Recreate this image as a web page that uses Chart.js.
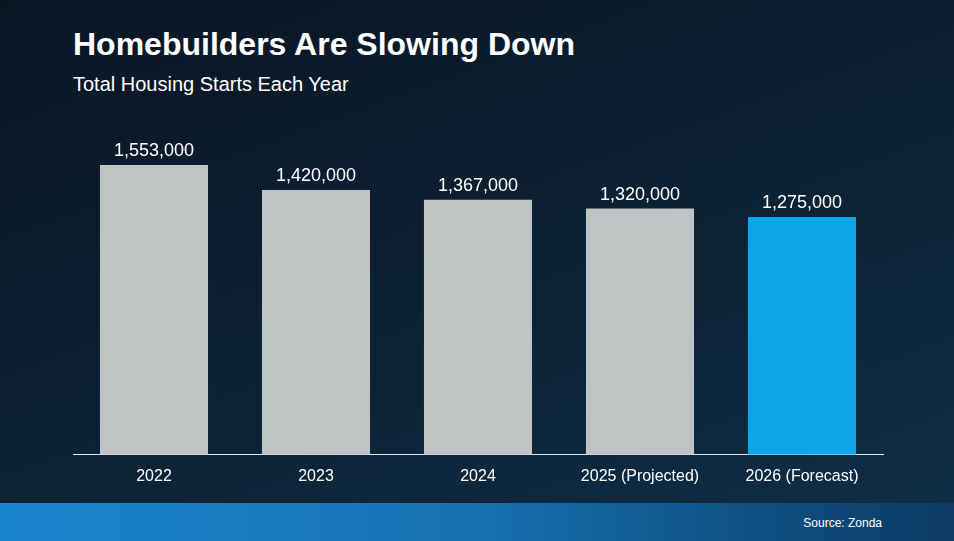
<!DOCTYPE html>
<html>
<head>
<meta charset="utf-8">
<script src="https://cdn.jsdelivr.net/npm/chart.js@4"></script>
<style>
  html, body { margin: 0; padding: 0; }
  body {
    width: 954px; height: 541px; overflow: hidden; position: relative;
    background: linear-gradient(160deg, #0a1624 0%, #0c2235 55%, #0e2f48 100%);
    font-family: "Liberation Sans", Arial, sans-serif; color: #fff;
  }
  #title { position: absolute; left: 73px; top: 26px; font-size: 32px; font-weight: bold; }
  #subtitle { position: absolute; left: 73px; top: 73px; font-size: 20px; }
  #chartBox { position: absolute; left: 0; top: 0; width: 954px; height: 500px; }
  #footer {
    position: absolute; left: 0; top: 503px; width: 954px; height: 38px;
    background: linear-gradient(90deg, #1a86cf 0%, #1670b0 50%, #0b3a63 100%);
  }
  #source { position: absolute; right: 72px; top: 13px; font-size: 12px; }
</style>
</head>
<body>
<div id="title">Homebuilders Are Slowing Down</div>
<div id="subtitle">Total Housing Starts Each Year</div>
<div id="chartBox"><canvas id="housingChart"></canvas></div>
<div id="footer"><span id="source">Source: Zonda</span></div>
<script>
const years = ['2022', '2023', '2024', '2025 (Projected)', '2026 (Forecast)'];
const starts = [1553000, 1420000, 1367000, 1320000, 1275000];
const barColors = ['#c0c3c4', '#c0c3c4', '#c0c3c4', '#c0c3c4', '#0ea5e9'];

const valueLabels = {
    id: 'valueLabels',
    afterDatasetsDraw(chart) {
        const c = chart.ctx;
        const meta = chart.getDatasetMeta(0);
        c.save();
        c.fillStyle = '#ffffff';
        c.font = '18px "Liberation Sans", Arial, sans-serif';
        c.textAlign = 'center';
        c.textBaseline = 'bottom';
        meta.data.forEach((bar, i) => {
            c.fillText(starts[i].toLocaleString('en-US'), bar.x, bar.y - 5);
        });
        c.restore();
    }
};

const ctx = document.getElementById('housingChart').getContext('2d');
new Chart(ctx, {
    type: 'bar',
    data: {
        labels: years,
        datasets: [{
            data: starts,
            backgroundColor: barColors,
            barPercentage: 1,
            categoryPercentage: 0.667
        }]
    },
    options: {
        responsive: true,
        maintainAspectRatio: false,
        animation: false,
        layout: { padding: { left: 73, right: 71, top: 119, bottom: 10 } },
        plugins: { legend: { display: false }, tooltip: { enabled: false } },
        scales: {
            x: {
                grid: { display: false },
                border: { color: '#e6e6e6', width: 1 },
                ticks: { color: '#ffffff', font: { size: 16, family: '"Liberation Sans", Arial, sans-serif' }, padding: 4, maxRotation: 0 }
            },
            y: { display: false, min: 0, max: 1800000 }
        }
    },
    plugins: [valueLabels]
});
</script>
</body>
</html>
